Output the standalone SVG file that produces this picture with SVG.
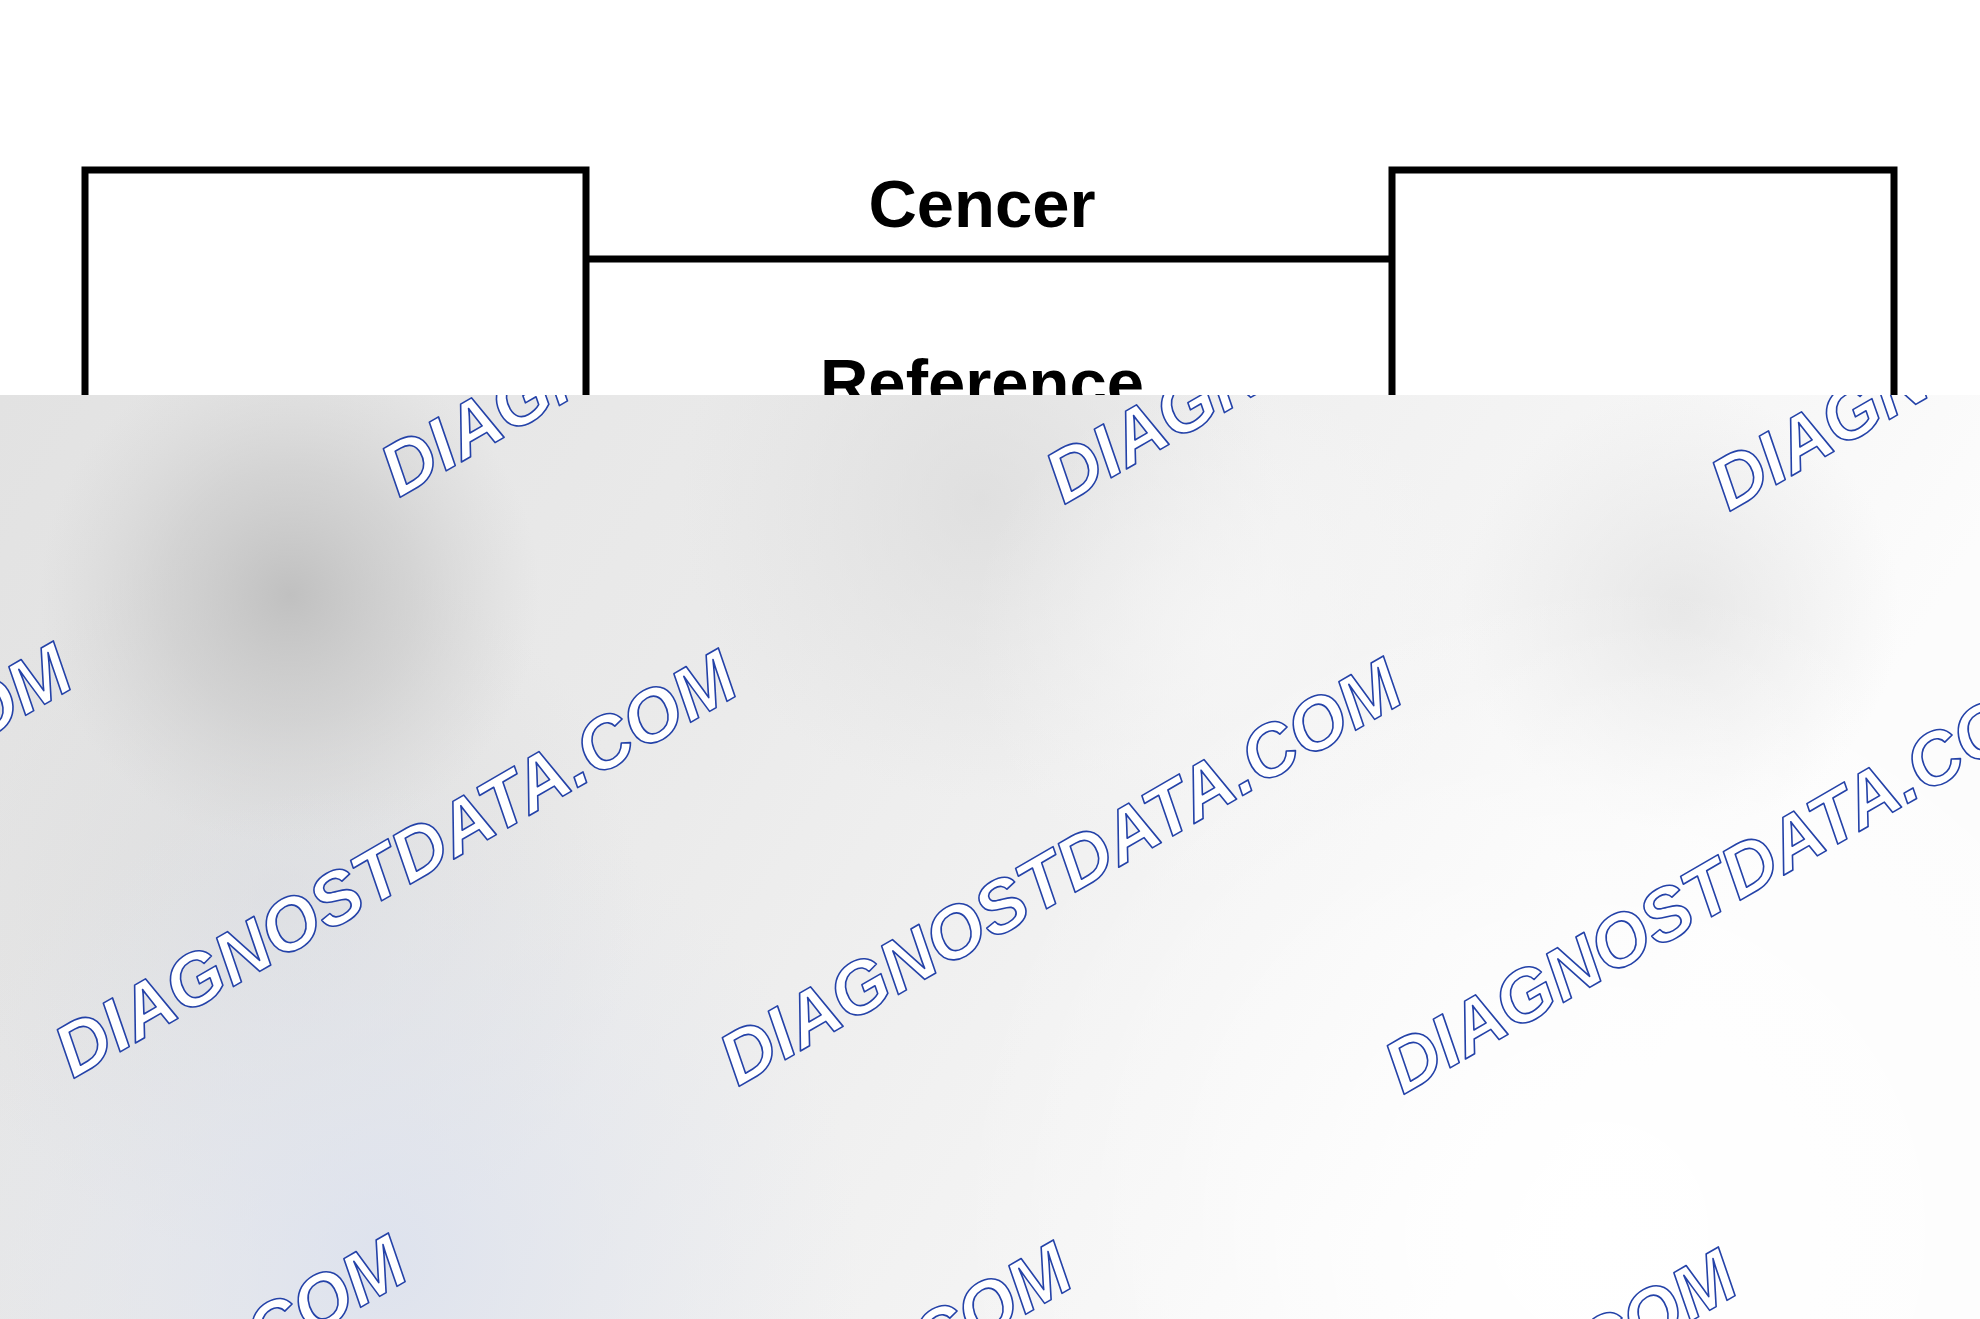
<svg xmlns="http://www.w3.org/2000/svg" width="1980" height="1319" viewBox="0 0 1980 1319">
<style>
.box{fill:#ffffff;stroke:#000000;stroke-width:7}
.conn{stroke:#000000;stroke-width:7;fill:none}
.lbl{font-family:"Liberation Sans",Arial,Helvetica,sans-serif;font-weight:bold;font-size:67px;fill:#000000;text-anchor:middle}
.wm{font-family:"Liberation Sans",Arial,Helvetica,sans-serif;font-weight:bold;font-style:italic;font-size:73.5px;fill:#ffffff;stroke:#2442a8;stroke-width:1.6;stroke-linejoin:round}
</style>
<defs>
<clipPath id="ovclip"><rect x="0" y="395" width="1980" height="924"/></clipPath>
<linearGradient id="base" gradientUnits="userSpaceOnUse" x1="0" y1="395" x2="1500" y2="1319">
<stop offset="0" stop-color="#e2e2e2"/>
<stop offset="0.45" stop-color="#ebebeb"/>
<stop offset="0.8" stop-color="#f5f5f5"/>
<stop offset="1" stop-color="#fcfcfc"/>
</linearGradient>
<radialGradient id="blob" gradientUnits="userSpaceOnUse" cx="290" cy="595" r="250">
<stop offset="0" stop-color="#c0c0c0" stop-opacity="1"/>
<stop offset="0.5" stop-color="#c8c8c8" stop-opacity="0.6"/>
<stop offset="1" stop-color="#d0d0d0" stop-opacity="0"/>
</radialGradient>
<radialGradient id="leftcol" gradientUnits="userSpaceOnUse" cx="280" cy="900" r="360">
<stop offset="0" stop-color="#d6d8dc" stop-opacity="0.6"/>
<stop offset="1" stop-color="#d8d8d8" stop-opacity="0"/>
</radialGradient>
<radialGradient id="blue" gradientUnits="userSpaceOnUse" cx="380" cy="1260" r="480">
<stop offset="0" stop-color="#dde2ee" stop-opacity="0.95"/>
<stop offset="1" stop-color="#e4e7ee" stop-opacity="0"/>
</radialGradient>
<radialGradient id="white" gradientUnits="userSpaceOnUse" cx="1600" cy="1230" r="650">
<stop offset="0" stop-color="#ffffff" stop-opacity="1"/>
<stop offset="1" stop-color="#ffffff" stop-opacity="0"/>
</radialGradient>
<radialGradient id="mid" gradientUnits="userSpaceOnUse" cx="980" cy="500" r="300">
<stop offset="0" stop-color="#dadada" stop-opacity="0.7"/>
<stop offset="1" stop-color="#dddddd" stop-opacity="0"/>
</radialGradient>
<radialGradient id="right" gradientUnits="userSpaceOnUse" cx="1680" cy="610" r="220">
<stop offset="0" stop-color="#e0e0e0" stop-opacity="0.7"/>
<stop offset="1" stop-color="#e2e2e2" stop-opacity="0"/>
</radialGradient>
<radialGradient id="white2" gradientUnits="userSpaceOnUse" cx="1230" cy="640" r="260">
<stop offset="0" stop-color="#f6f6f6" stop-opacity="0.8"/>
<stop offset="1" stop-color="#f6f6f6" stop-opacity="0"/>
</radialGradient>
</defs>
<rect x="0" y="0" width="1980" height="1319" fill="#ffffff"/>
<g id="node-left">
<rect class="box" x="85" y="170" width="501" height="700"/>
</g>
<g id="node-right">
<rect class="box" x="1392" y="170" width="502" height="700"/>
</g>
<g id="connectors">
<line class="conn" x1="586" y1="259" x2="1392" y2="259"/>
<text class="lbl" x="982" y="227">Cencer</text>
<text class="lbl" x="982" y="406">Reference</text>
</g>
<g id="overlay" clip-path="url(#ovclip)">
<rect x="0" y="395" width="1980" height="924" fill="url(#base)"/>
<rect x="0" y="395" width="1980" height="924" fill="url(#leftcol)"/>
<rect x="0" y="395" width="1980" height="924" fill="url(#blob)"/>
<rect x="0" y="395" width="1980" height="924" fill="url(#mid)"/>
<rect x="0" y="395" width="1980" height="924" fill="url(#right)"/>
<rect x="0" y="395" width="1980" height="924" fill="url(#white2)"/>
<rect x="0" y="395" width="1980" height="924" fill="url(#blue)"/>
<rect x="0" y="395" width="1980" height="924" fill="url(#white)"/>
<g id="watermarks">
<text class="wm" transform="translate(399,498) rotate(-30)">DIAGNOSTDATA.COM</text>
<text class="wm" transform="translate(1064,505) rotate(-30)">DIAGNOSTDATA.COM</text>
<text class="wm" transform="translate(1729,512) rotate(-30)">DIAGNOSTDATA.COM</text>
<text class="wm" transform="translate(-592,1072) rotate(-30)">DIAGNOSTDATA.COM</text>
<text class="wm" transform="translate(73,1079) rotate(-30)">DIAGNOSTDATA.COM</text>
<text class="wm" transform="translate(738,1087) rotate(-30)">DIAGNOSTDATA.COM</text>
<text class="wm" transform="translate(1403,1095) rotate(-30)">DIAGNOSTDATA.COM</text>
<text class="wm" transform="translate(-257,1664) rotate(-30)">DIAGNOSTDATA.COM</text>
<text class="wm" transform="translate(408,1671) rotate(-30)">DIAGNOSTDATA.COM</text>
<text class="wm" transform="translate(1073,1678) rotate(-30)">DIAGNOSTDATA.COM</text>
</g>
</g>
</svg>
